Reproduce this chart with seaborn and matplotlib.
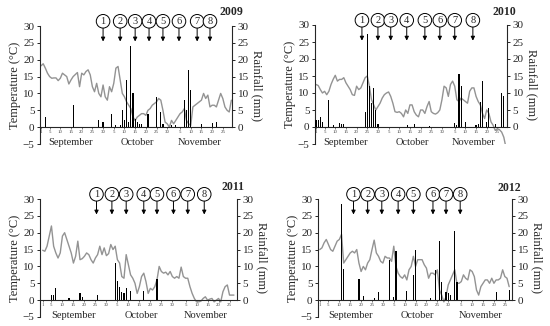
import numpy as np
import pandas as pd
import matplotlib
matplotlib.use("Agg")
import matplotlib.pyplot as plt
import seaborn as sns

# daily mean temperature, index 0 = 1 September
temp_2009 = [18.2, 18.8, 17.5, 16, 15, 14.5, 14.6, 14.6, 13.8, 14.5,
             16, 15.5, 15, 12.8, 14, 15, 15.6, 16.2, 12, 16,
             15.5, 16.5, 17, 15.5, 12, 10.5, 13, 10, 9, 12.5,
             9, 8, 12, 10.5, 13, 17.5, 18, 14, 10, 9,
             7.5, 6.5, 5.5, 3, 2, 3, 3.5, 4, 4, 3.5,
             5, 5.5, 6.5, 7, 7.5, 8.5, 8, 5, 1.5, 1,
             0, 2, 1, 2, 3, 4, 4.5, 5.5, 2, 1,
             0.5, 6, 6.5, 7, 7.5, 8, 10, 8.5, 9.5, 6,
             6.5, 6.5, 6, 8, 10, 8.5, 6, 5, 4.5, 8]
temp_2010 = [12.5, 12.2, 11, 10, 10.5, 9.5, 10.5, 12.5, 14, 15.2,
             13.5, 14, 14, 14.5, 13, 12, 11, 9.5, 9.3, 12,
             11, 11.5, 13, 14.5, 15, 12, 8, 6.5, 5, 6,
             7, 8.5, 9.5, 10, 10.3, 9, 7, 4.5, 4.3, 4.5,
             4, 3, 5, 4, 6.5, 6.5, 4.5, 3.5, 3, 5,
             5, 4, 6, 7.5, 4.5, 4, 3.8, 4.2, 5, 8,
             12, 11.5, 9, 12.5, 13.5, 12, 8, 7.5, 8.5, 8,
             7.5, 7, 10.5, 11.5, 11.5, 9, 7.5, 6.5, 4, 2.5,
             5, 4, 1.5, 0.5, -1, -0.5, -0.8, -1.5, -3, -6]
temp_2011 = [14.8, 14.5, 16, 19, 22, 16, 14, 12.5, 14, 19,
             20, 18, 16, 14, 11, 13, 17.5, 12, 12.3, 13,
             14, 13.5, 12, 11, 12.5, 13.5, 16, 13.5, 15.5, 13.2,
             13.8, 16.5, 15, 16, 12, 11, 7, 6.5, 13.5, 10.5,
             7.5, 6.5, 5, 2, 4, 7, 8, 5.5, 2, 3.5,
             3, 4, 6, 10, 8.5, 8, 8.3, 7.5, 8.5, 7,
             6.5, 7, 6.5, 9.8, 7, 6.5, 6.5, 4, 2, 0.5,
             -0.5, -0.5, -0.3, 0.5, 1, 0, 0.3, 0.5, -0.5, 0,
             0.5, -0.5, 2.5, 4, 4.5, 1.5, 1.5, 1.5]
temp_2012 = [15, 15.5, 17, 18, 16.5, 15, 14.5, 16, 17.5, 18,
             19.5, 11, 12, 13, 14, 14.5, 14, 15, 11, 8.5,
             10, 9, 11, 12, 15, 17.8, 14, 13, 11.5, 11,
             13, 12.5, 12.5, 11.5, 16, 10, 8, 7, 6.5, 7.5,
             6, 9, 10, 13, 10, 12, 12, 12, 10.5, 9.5,
             6.5, 8, 8, 7.5, 9, 3, 1.5, -0.5, 1, 4.5,
             6, 7.5, 9, 5, 5, 5.5, 7.5, 6.5, 6, 9,
             8.5, 7, 3, 1.5, 4, 5, 6, 6, 5, 6.5,
             5, 6, 6, 6.5, 9, 7, 6.5, 4]

# rainfall: day index and amount (mm)
rain_day_2009 = [2, 15, 27, 29, 33, 35, 37, 38, 39, 40, 41, 42, 43, 44, 45, 46, 47,
                 50, 54, 56, 57, 61, 63, 67, 68, 69, 70, 75, 80, 82]
rain_mm_2009 = [3, 6.5, 2, 1.6, 3.8, 0.5, 0.7, 5, 2, 14, 1.5, 24, 10, 2.5, 1.5, 1, 1,
                4, 9, 4.5, 1, 0.5, 0.5, 8, 5, 17, 11, 1, 1.3, 1.4]
rain_day_2010 = [0, 1, 2, 3, 6, 8, 11, 12, 13, 23, 24, 25, 26, 27, 28, 29,
                 43, 46, 53, 65, 66, 67, 68, 70, 75, 76, 77, 78, 80, 81, 84, 87, 88]
rain_mm_2010 = [2.2, 2, 2.8, 1.5, 8, 0.5, 1.2, 1, 0.8, 4.5, 27.5, 12, 7, 11.5, 5, 0.8,
                0.7, 1, 0.3, 1.2, 0.5, 15.5, 12, 1.5, 0.5, 1, 7.5, 13.5, 1.5, 5.5, 0.8, 10, 9]
rain_day_2011 = [4, 5, 6, 12, 17, 18, 25, 33, 34, 35, 36, 37, 38, 40, 46, 52]
rain_mm_2011 = [1.5, 1.5, 3.7, 0.5, 2, 0.8, 1.4, 11, 5.7, 4, 2.5, 2.2, 3.5, 2.7, 2.7, 6.2]
rain_day_2012 = [10, 11, 18, 20, 25, 27, 32, 34, 35, 40, 43, 44, 51, 53, 55, 56,
                 58, 59, 60, 62, 63, 81, 87]
rain_mm_2012 = [28.5, 9.3, 6.3, 1.2, 0.5, 2.3, 12, 1, 14.5, 2.7, 7.5, 15, 0.5, 8.8, 17.5, 5.5,
                2.5, 2, 1.5, 20.5, 5.5, 2.5, 3]

# sampling dates (day index) marked 1..8
samples_2009 = [29, 37, 44, 50.5, 57, 64.5, 73, 79]
samples_2010 = [21.5, 29, 35, 42.5, 51, 58, 65, 73.5]
samples_2011 = [24.5, 31.5, 38, 46, 52, 59.5, 66, 73.5]
samples_2012 = [15.5, 22, 28.5, 36, 43, 52, 58, 64.5]

years = ["2009", "2010", "2011", "2012"]
tick_days = [0, 4, 9, 14, 19, 24, 29, 34, 39, 44, 49, 54, 59, 65, 70, 75, 80, 85]
tick_labels = ["1", "5", "10", "15", "20", "25", "30", "5", "10", "15", "20", "25", "30",
               "5", "10", "15", "20", "25"]
months = ["September", "October", "November"]
month_days = [14, 45, 74]

sns.set_style("ticks")
plt.rcParams['font.family'] = ['Liberation Serif', 'DejaVu Serif']

fig = plt.figure(figsize=(5.5, 3.26), dpi=100)
W, H = 550, 326


def px_axes(l, r, t, b):
    return [l / W, 1 - b / H, (r - l) / W, (b - t) / H]


panels = [
    (px_axes(40, 232, 26, 144), (-0.5, 89.3), temp_2009, rain_day_2009, rain_mm_2009, samples_2009, (243, 12)),
    (px_axes(315, 507, 25, 144), (-0.5, 89.5), temp_2010, rain_day_2010, rain_mm_2010, samples_2010, (516, 12)),
    (px_axes(40, 237, 199, 317), (-1.2, 88.4), temp_2011, rain_day_2011, rain_mm_2011, samples_2011, (245, 187)),
    (px_axes(318, 512, 199, 317), (-0.8, 88.3), temp_2012, rain_day_2012, rain_mm_2012, samples_2012, (521, 188)),
]

for year, (rect, xlim, temp, rday, rmm, samp, ypos) in zip(years, panels):
    ax = fig.add_axes(rect)
    df = pd.DataFrame({"day": np.arange(len(temp)), "temp": temp})
    sns.lineplot(data=df, x="day", y="temp", ax=ax, color="#939393", lw=1.0)
    ax.set_xlim(*xlim)
    ax.set_ylim(-5, 30)

    ax2 = ax.twinx()
    ax2.bar(rday, rmm, width=0.55, color="black", linewidth=0)
    ax2.set_xlim(*xlim)
    ax2.set_ylim(-5, 30)

    # spines
    for a in (ax, ax2):
        a.spines['top'].set_visible(False)
        a.spines['bottom'].set_position(('data', 0))
    ax.spines['right'].set_visible(False)
    ax2.spines['left'].set_visible(False)
    ax2.spines['bottom'].set_visible(False)
    ax2.spines['right'].set_bounds(0, 30)
    ax.spines['left'].set_linewidth(0.8)
    ax2.spines['right'].set_linewidth(0.8)
    ax.spines['bottom'].set_linewidth(0.8)

    ax.set_yticks(range(-5, 31, 5))
    ax2.set_yticks(range(0, 31, 5))
    ax.tick_params(axis='y', labelsize=8, length=2.5, width=0.7, pad=1.5)
    ax2.tick_params(axis='y', labelsize=8, length=2.5, width=0.7, pad=1.5)

    ax.set_xticks(tick_days)
    ax.set_xticklabels(tick_labels)
    ax.tick_params(axis='x', labelsize=3.5, length=1.5, width=0.5, pad=0.8, colors="#444444")
    ax.set_xlabel("")
    ax.set_ylabel("Temperature (°C)", fontsize=9, labelpad=1)
    ax2.set_ylabel("Rainfall (mm)", fontsize=9, rotation=270, labelpad=10)

    for m, d in zip(months, month_days):
        ax.text(d, -4.5, m, ha="center", va="center", fontsize=7.5)

    for i, x in enumerate(samp, start=1):
        ax.annotate("", xy=(x, 25.4), xytext=(x, 29.4),
                    arrowprops=dict(arrowstyle="-|>", color="black", lw=0.7,
                                    mutation_scale=6, shrinkA=0, shrinkB=0),
                    annotation_clip=False)
        ax.text(x, 31.4, str(i), ha="center", va="center", fontsize=7.5, clip_on=False,
                bbox=dict(boxstyle="circle,pad=0.22", fc="white", ec="black", lw=0.7))

    fig.text(ypos[0] / W, 1 - ypos[1] / H, year, ha="right", va="center",
             fontsize=8.5, fontweight="bold")

fig.savefig("out.png", dpi=100)
